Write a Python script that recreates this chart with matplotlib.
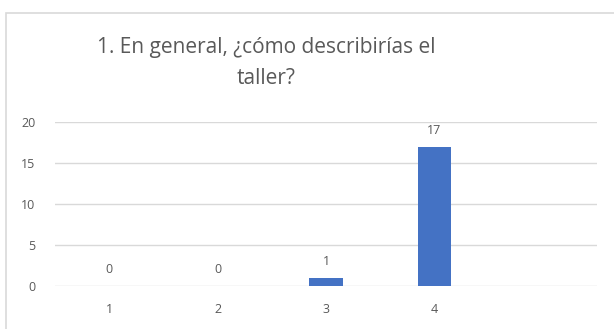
import matplotlib
matplotlib.use("Agg")
import matplotlib.pyplot as plt
from matplotlib.patches import Rectangle

title = "1. En general, ¿cómo describirías el\ntaller?"
categories = ["1", "2", "3", "4", ""]
values = [0, 0, 1, 17, None]

grey_text = "#595959"
grid_col = "#D9D9D9"
bar_col = "#4472C4"

plt.rcParams['font.family'] = ['Open Sans', 'DejaVu Sans']

fig = plt.figure(figsize=(6.14, 3.29), dpi=100)
# outer chart border (runs off the right/bottom edge like the screenshot)
fig.patches.append(Rectangle((6 / 614, -0.05), 1.2, 1 - 13 / 329 + 0.05,
                             transform=fig.transFigure, fill=False,
                             edgecolor=grid_col, linewidth=1.2))

ax = fig.add_axes([55 / 614, 1 - 286 / 329, (597 - 55) / 614, (286 - 122) / 329])

xs = list(range(1, len(categories) + 1))
for x, v in zip(xs, values):
    if v is None:
        continue
    ax.bar(x, v, width=0.31, color=bar_col, zorder=3)
    ax.text(x, v + 1.2, str(v), ha='center', va='bottom', fontsize=9, color=grey_text)

ax.set_xlim(0.5, len(categories) + 0.5)
ax.set_ylim(0, 20)
ax.set_yticks([0, 5, 10, 15, 20])
ax.set_xticks(xs)
ax.set_xticklabels(categories)
ax.grid(axis='y', color=grid_col, linewidth=1, zorder=0)
for s in ax.spines.values():
    s.set_visible(False)
ax.tick_params(length=0, labelsize=9, colors=grey_text, pad=14)
ax.tick_params(axis='x', pad=12)

fig.text(266 / 614, 1 - 63 / 329, title, ha='center', va='center',
         multialignment='center', fontsize=15, color=grey_text, linespacing=1.6)

fig.savefig("out.png", dpi=100)
